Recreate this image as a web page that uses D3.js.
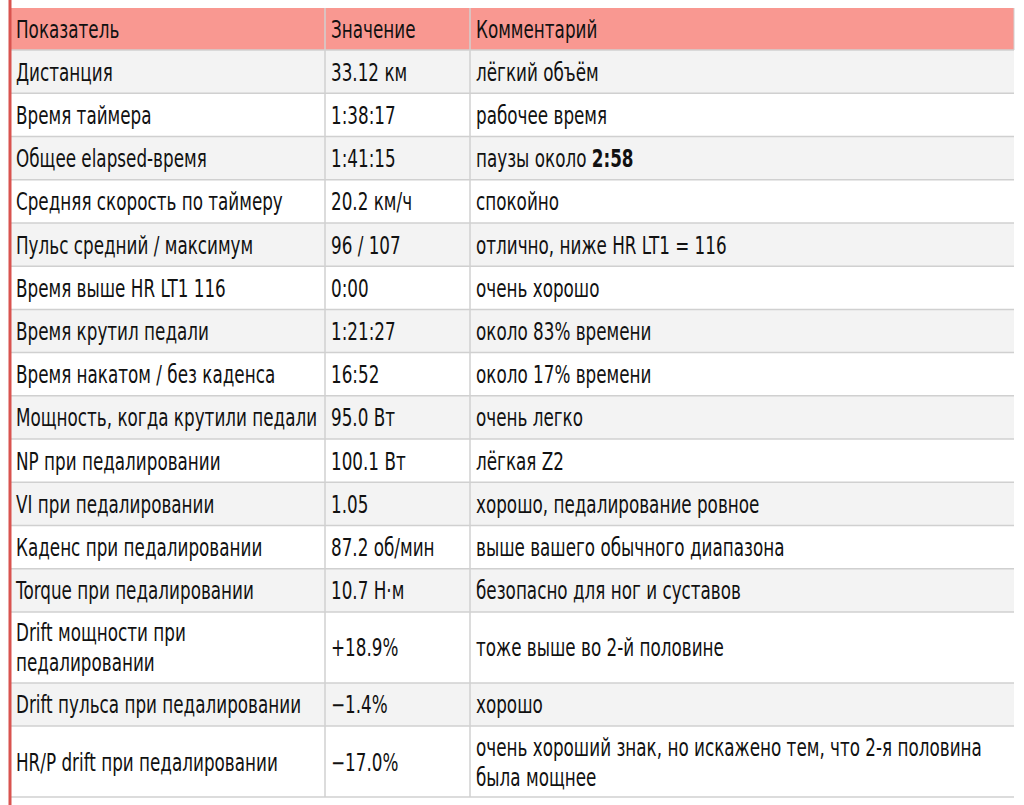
<!DOCTYPE html>
<html><head><meta charset="utf-8">
<script src="https://cdn.jsdelivr.net/npm/d3@7"></script>
<style>body{margin:0;background:#fff;}</style>
</head><body>
<svg id="t" width="1024" height="805"></svg>
<script>
const headers = ['Показатель', 'Значение', 'Комментарий'];
const metrics = ['Дистанция', 'Время таймера', 'Общее elapsed-время', 'Средняя скорость по таймеру',
  'Пульс средний / максимум', 'Время выше HR LT1 116', 'Время крутил педали', 'Время накатом / без каденса',
  'Мощность, когда крутили педали', 'NP при педалировании', 'VI при педалировании', 'Каденс при педалировании',
  'Torque при педалировании', 'Drift мощности при|педалировании', 'Drift пульса при педалировании', 'HR/P drift при педалировании'];
const values = ['33.12 км', '1:38:17', '1:41:15', '20.2 км/ч', '96 / 107', '0:00', '1:21:27', '16:52',
  '95.0 Вт', '100.1 Вт', '1.05', '87.2 об/мин', '10.7 Н·м', '+18.9%', '−1.4%', '−17.0%'];
const comments = ['лёгкий объём', 'рабочее время', 'паузы около **2:58', 'спокойно', 'отлично, ниже HR LT1 = 116',
  'очень хорошо', 'около 83% времени', 'около 17% времени', 'очень легко', 'лёгкая Z2', 'хорошо, педалирование ровное',
  'выше вашего обычного диапазона', 'безопасно для ног и суставов', 'тоже выше во 2-й половине', 'хорошо',
  'очень хороший знак, но искажено тем, что 2-я половина|была мощнее'];

const svg = d3.select('#t');
const font = '"DejaVu Sans", sans-serif';
const sx = 0.7; // horizontal squeeze to mimic the condensed face
const x = d3.scaleOrdinal().domain([0, 1, 2, 3]).range([10, 325, 470, 1014]);

// row heights in line units: single line rows 1, wrapped rows 1.64
const lines = metrics.map((m, i) => (m.includes('|') || comments[i].includes('|')) ? 1.64 : 1);
const cum = [0];
lines.forEach(l => cum.push(cum[cum.length - 1] + l));
const y = d3.scaleLinear().domain([0, cum[cum.length - 1]]).range([50, 797]);

function txt(g, px, py) {
  return g.append('text').attr('x', px / sx).attr('y', py).attr('transform', `scale(${sx},1)`)
    .style('font-family', font).style('font-size', '24px').style('fill', '#111');
}

// header
svg.append('rect').attr('x', x(0)).attr('y', 8).attr('width', x(3) - x(0)).attr('height', 42).attr('fill', '#f99891');
headers.forEach((h, c) => txt(svg, x(c) + 6, 38).text(h));

const rows = svg.selectAll('g.row').data(metrics).join('g').attr('class', 'row');
rows.append('rect')
  .attr('x', x(0)).attr('y', (d, i) => y(cum[i]))
  .attr('width', x(3) - x(0)).attr('height', (d, i) => y(cum[i + 1]) - y(cum[i]))
  .attr('fill', (d, i) => i % 2 === 0 ? '#f3f3f3' : '#fff');

function cell(g, str, cx, i) {
  const parts = str.split('|');
  const top = y(cum[i]), h = y(cum[i + 1]) - top;
  const lh = 30;
  const start = top + h / 2 - (parts.length - 1) * lh / 2 + 9;
  parts.forEach((p, k) => {
    const t = txt(g, cx + 6, start + k * lh);
    const b = p.split('**');
    t.append('tspan').text(b[0]);
    if (b[1]) t.append('tspan').text(b[1]).style('font-weight', 'bold');
  });
}
rows.each(function(d, i) {
  const g = d3.select(this);
  cell(g, d, x(0), i);
  cell(g, values[i], x(1), i);
  cell(g, comments[i], x(2), i);
});

// grid lines
cum.forEach(c => svg.append('line').attr('x1', x(0)).attr('x2', x(3)).attr('y1', y(c)).attr('y2', y(c))
  .attr('stroke', '#d0d0d0').attr('stroke-width', 1.5));
[1, 2].forEach(c => svg.append('line').attr('x1', x(c)).attr('x2', x(c)).attr('y1', 8).attr('y2', 797)
  .attr('stroke', '#d0d0d0').attr('stroke-width', 1.5));
svg.append('line').attr('x1', x(3)).attr('x2', x(3)).attr('y1', 8).attr('y2', 50).attr('stroke', '#d0d0d0');
svg.append('line').attr('x1', 10).attr('x2', 10).attr('y1', 0).attr('y2', 805)
  .attr('stroke', '#d9534f').attr('stroke-width', 3);
</script>
</body></html>
